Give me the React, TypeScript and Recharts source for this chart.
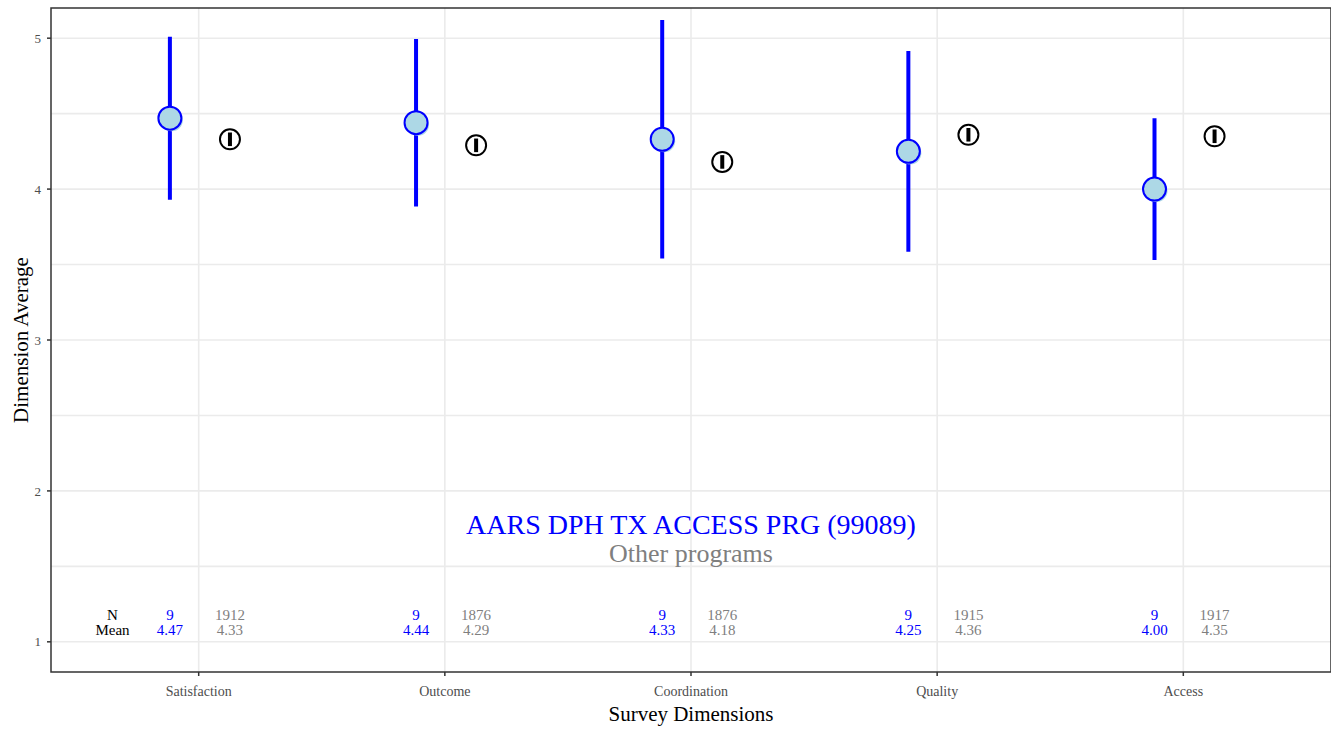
import {
  ComposedChart,
  CartesianGrid,
  ErrorBar,
  ReferenceArea,
  Scatter,
  XAxis,
  YAxis,
} from "recharts";

const DIMENSIONS = ["Satisfaction", "Outcome", "Coordination", "Quality", "Access"];
const PROGRAM_MEAN = [4.47, 4.44, 4.33, 4.25, 4.0];
const PROGRAM_SD = [0.54, 0.555, 0.79, 0.665, 0.47];
const PROGRAM_N = [9, 9, 9, 9, 9];
const OTHER_MEAN = [4.33, 4.29, 4.18, 4.36, 4.35];
const OTHER_ERR = [0.045, 0.045, 0.045, 0.045, 0.045];
const OTHER_N = [1912, 1876, 1876, 1915, 1917];
const Y_TICKS = [1, 2, 3, 4, 5];
const Y_GRID = [1, 1.5, 2, 2.5, 3, 3.5, 4, 4.5, 5];
const X_TICKS = [1, 2, 3, 4, 5];

const PROGRAM_NAME = "AARS DPH TX ACCESS PRG (99089)";
const OTHER_NAME = "Other programs";

const FONT = "'Liberation Serif', 'DejaVu Serif', serif";
const BLUE = "#0000FF";
const LIGHT_BLUE = "#ADD8E6";
const GREY = "#7F7F7F";

const PROG_OFFSET = 0.117;
const OTHER_OFFSET = 0.127;
const N_ROW = 1.18;
const MEAN_ROW = 1.08;

const programData = DIMENSIONS.map((d, i) => ({
  name: d,
  x: i + 1 - PROG_OFFSET,
  y: PROGRAM_MEAN[i],
  err: PROGRAM_SD[i],
}));

const otherData = DIMENSIONS.map((d, i) => ({
  name: d,
  x: i + 1 + OTHER_OFFSET,
  y: OTHER_MEAN[i],
  err: OTHER_ERR[i],
}));

type TextRow = { x: number; y: number; label: string; color: string; size: number };

const tableText: TextRow[] = [
  { x: 0.65, y: N_ROW, label: "N", color: "#000", size: 15 },
  { x: 0.65, y: MEAN_ROW, label: "Mean", color: "#000", size: 15 },
  ...DIMENSIONS.flatMap((_, i) => [
    { x: i + 1 - PROG_OFFSET, y: N_ROW, label: String(PROGRAM_N[i]), color: BLUE, size: 15 },
    { x: i + 1 - PROG_OFFSET, y: MEAN_ROW, label: PROGRAM_MEAN[i].toFixed(2), color: BLUE, size: 15 },
    { x: i + 1 + OTHER_OFFSET, y: N_ROW, label: String(OTHER_N[i]), color: GREY, size: 15 },
    { x: i + 1 + OTHER_OFFSET, y: MEAN_ROW, label: OTHER_MEAN[i].toFixed(2), color: GREY, size: 15 },
  ]),
];

const titleText: TextRow[] = [
  { x: 3, y: 1.78, label: PROGRAM_NAME, color: BLUE, size: 28 },
  { x: 3, y: 1.585, label: OTHER_NAME, color: GREY, size: 26 },
];

const Nothing = () => <g />;

const ProgramDot = (p: any) => (
  <g>
    <circle cx={p.cx + 2} cy={p.cy + 2} r={11} fill={LIGHT_BLUE} />
    <circle cx={p.cx} cy={p.cy} r={11.5} fill={LIGHT_BLUE} stroke={BLUE} strokeWidth={2} />
  </g>
);

// open ring so the small "other programs" bar underneath shows through
const OtherDot = (p: any) => (
  <circle cx={p.cx} cy={p.cy} r={10} fill="none" stroke="#000" strokeWidth={2} />
);

const TextMark = (p: any) => (
  <text
    x={p.cx}
    y={p.cy}
    textAnchor="middle"
    dominantBaseline="central"
    fill={p.payload.color}
    fontSize={p.payload.size}
    fontFamily={FONT}
  >
    {p.payload.label}
  </text>
);

export default function App() {
  return (
    <div style={{ position: "absolute", left: 0, top: 0, background: "#fff" }}>
      <ComposedChart width={1331} height={729} margin={{ top: 8, right: 0, bottom: 0, left: 0 }}>
        <CartesianGrid
          horizontalValues={Y_GRID}
          verticalValues={X_TICKS}
          stroke="#EBEBEB"
          strokeWidth={1.6}
        />
        <XAxis
          type="number"
          dataKey="x"
          domain={[0.4, 5.6]}
          ticks={X_TICKS}
          allowDataOverflow
          height={57}
          tickFormatter={(v) => DIMENSIONS[v - 1]}
          tick={{ fontSize: 14, fill: "#4D4D4D", fontFamily: FONT }}
          tickSize={4}
          tickLine={{ stroke: "#333", strokeWidth: 1.5 }}
          axisLine={false}
          tickMargin={10}
          label={({ viewBox }: any) => (
            <text
              x={viewBox.x + viewBox.width / 2}
              y={viewBox.y + 49}
              textAnchor="middle"
              fontSize={21}
              fill="#000"
              fontFamily={FONT}
            >
              Survey Dimensions
            </text>
          )}
        />
        <YAxis
          type="number"
          dataKey="y"
          domain={[0.8, 5.2]}
          ticks={Y_TICKS}
          allowDataOverflow
          width={51}
          tick={{ fontSize: 13, fill: "#4D4D4D", fontFamily: FONT }}
          tickSize={4}
          tickLine={{ stroke: "#333", strokeWidth: 1.5 }}
          axisLine={false}
          tickMargin={6}
          label={({ viewBox }: any) => (
            <text
              x={21}
              y={viewBox.y + viewBox.height / 2}
              textAnchor="middle"
              dominantBaseline="central"
              transform={`rotate(-90 21 ${viewBox.y + viewBox.height / 2})`}
              fontSize={21}
              fill="#000"
              fontFamily={FONT}
            >
              Dimension Average
            </text>
          )}
        />
        <ReferenceArea
          x1={0.4}
          x2={5.6}
          y1={0.8}
          y2={5.2}
          fill="none"
          stroke="#333"
          strokeWidth={1.5}
          ifOverflow="visible"
        />
        <Scatter data={programData} shape={Nothing} isAnimationActive={false}>
          <ErrorBar dataKey="err" direction="y" width={0} stroke={BLUE} strokeWidth={4} />
        </Scatter>
        <Scatter data={programData} shape={ProgramDot} isAnimationActive={false} />
        <Scatter data={otherData} shape={Nothing} isAnimationActive={false}>
          <ErrorBar dataKey="err" direction="y" width={0} stroke="#000" strokeWidth={4} />
        </Scatter>
        <Scatter data={otherData} shape={OtherDot} isAnimationActive={false} />
        <Scatter data={tableText} shape={TextMark} isAnimationActive={false} />
        <Scatter data={titleText} shape={TextMark} isAnimationActive={false} />
      </ComposedChart>
    </div>
  );
}
